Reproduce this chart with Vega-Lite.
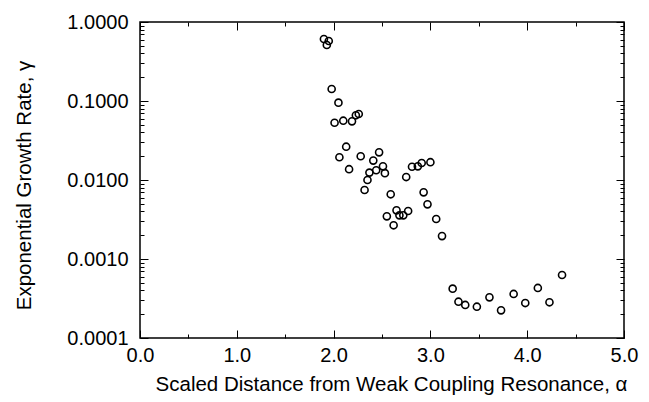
{
  "$schema": "https://vega.github.io/schema/vega-lite/v6.json",
  "autosize": {"type": "none"},
  "padding": {"left": 140, "top": 22, "right": 25, "bottom": 64},
  "width": 484,
  "height": 316,
  "background": "white",
  "config": {
    "view": {"stroke": "black", "strokeWidth": 1.5},
    "axis": {"grid": false, "domain": false, "labelFont": "Liberation Sans", "titleFont": "Liberation Sans", "labelColor": "black", "titleColor": "black", "tickColor": "black", "labelFontSize": 20, "titleFontSize": 20.5, "titleFontWeight": "normal"}
  },
  "data": {"values": [
    {"a": 1.90, "g": 0.609}, {"a": 1.95, "g": 0.575}, {"a": 1.93, "g": 0.511},
    {"a": 1.98, "g": 0.142}, {"a": 2.05, "g": 0.0952}, {"a": 2.01, "g": 0.0531},
    {"a": 2.10, "g": 0.0563}, {"a": 2.19, "g": 0.0553}, {"a": 2.23, "g": 0.0659},
    {"a": 2.26, "g": 0.0685}, {"a": 2.13, "g": 0.0264}, {"a": 2.06, "g": 0.0194},
    {"a": 2.28, "g": 0.0200}, {"a": 2.47, "g": 0.0224}, {"a": 2.16, "g": 0.0137},
    {"a": 2.41, "g": 0.0176}, {"a": 2.51, "g": 0.0149}, {"a": 2.37, "g": 0.0124},
    {"a": 2.44, "g": 0.0133}, {"a": 2.53, "g": 0.0122}, {"a": 2.35, "g": 0.0100},
    {"a": 2.32, "g": 0.00747}, {"a": 2.59, "g": 0.00659}, {"a": 2.75, "g": 0.0109},
    {"a": 2.81, "g": 0.0147}, {"a": 2.87, "g": 0.0149}, {"a": 2.91, "g": 0.0164},
    {"a": 3.00, "g": 0.0168}, {"a": 2.93, "g": 0.00698}, {"a": 2.97, "g": 0.00492},
    {"a": 3.06, "g": 0.00321}, {"a": 3.12, "g": 0.00195}, {"a": 2.65, "g": 0.00413},
    {"a": 2.77, "g": 0.00405}, {"a": 2.55, "g": 0.00347}, {"a": 2.68, "g": 0.00357},
    {"a": 2.72, "g": 0.00357}, {"a": 2.62, "g": 0.00267}, {"a": 3.23, "g": 0.000421},
    {"a": 3.29, "g": 0.000288}, {"a": 3.36, "g": 0.000262}, {"a": 3.48, "g": 0.000249},
    {"a": 3.61, "g": 0.000327}, {"a": 3.73, "g": 0.000224}, {"a": 3.86, "g": 0.000361},
    {"a": 3.98, "g": 0.000277}, {"a": 4.11, "g": 0.000430}, {"a": 4.23, "g": 0.000283},
    {"a": 4.36, "g": 0.000627}
  ]},
  "resolve": {"axis": {"x": "independent", "y": "independent"}},
  "layer": [
    {
      "mark": {"type": "point", "shape": "circle", "filled": false, "stroke": "black", "strokeWidth": 1.6, "size": 50, "opacity": 1},
      "encoding": {
        "x": {"field": "a", "type": "quantitative", "scale": {"domain": [0, 5], "nice": false, "zero": false},
              "axis": {"orient": "bottom", "title": "Scaled Distance from Weak Coupling Resonance, α", "values": [0, 1, 2, 3, 4, 5], "format": ".1f", "tickSize": -8, "labelPadding": 15, "titlePadding": 9, "titleX": 251, "labelFlush": false}},
        "y": {"field": "g", "type": "quantitative", "scale": {"type": "log", "domain": [0.0001, 1], "nice": false},
              "axis": {"orient": "left", "title": "Exponential Growth Rate, γ", "values": [0.0001, 0.001, 0.01, 0.1, 1], "format": ".4f", "tickSize": -8, "labelPadding": 20, "titlePadding": 32, "titleY": 163, "labelFlush": false}}
      }
    },
    {
      "mark": {"type": "point", "opacity": 0},
      "encoding": {
        "x": {"field": "a", "type": "quantitative", "scale": {"domain": [0, 5], "nice": false, "zero": false},
              "axis": {"orient": "bottom", "title": null, "labels": false, "values": [0.5, 1.5, 2.5, 3.5, 4.5], "tickSize": -4}},
        "y": {"field": "g", "type": "quantitative", "scale": {"type": "log", "domain": [0.0001, 1], "nice": false},
              "axis": {"orient": "left", "title": null, "labels": false, "tickSize": -4, "values": [0.0002, 0.0003, 0.0004, 0.0005, 0.0006, 0.0007, 0.0008, 0.0009, 0.002, 0.003, 0.004, 0.005, 0.006, 0.007, 0.008, 0.009, 0.02, 0.03, 0.04, 0.05, 0.06, 0.07, 0.08, 0.09, 0.2, 0.3, 0.4, 0.5, 0.6, 0.7, 0.8, 0.9]}}
      }
    },
    {
      "mark": {"type": "point", "opacity": 0},
      "encoding": {
        "x": {"field": "a", "type": "quantitative", "scale": {"domain": [0, 5], "nice": false, "zero": false},
              "axis": {"orient": "top", "title": null, "labels": false, "values": [0, 1, 2, 3, 4, 5], "tickSize": -8}},
        "y": {"field": "g", "type": "quantitative", "scale": {"type": "log", "domain": [0.0001, 1], "nice": false},
              "axis": {"orient": "right", "title": null, "labels": false, "values": [0.0001, 0.001, 0.01, 0.1, 1], "tickSize": -8}}
      }
    },
    {
      "mark": {"type": "point", "opacity": 0},
      "encoding": {
        "x": {"field": "a", "type": "quantitative", "scale": {"domain": [0, 5], "nice": false, "zero": false},
              "axis": {"orient": "top", "title": null, "labels": false, "values": [0.5, 1.5, 2.5, 3.5, 4.5], "tickSize": -4}},
        "y": {"field": "g", "type": "quantitative", "scale": {"type": "log", "domain": [0.0001, 1], "nice": false},
              "axis": {"orient": "right", "title": null, "labels": false, "tickSize": -4, "values": [0.0002, 0.0003, 0.0004, 0.0005, 0.0006, 0.0007, 0.0008, 0.0009, 0.002, 0.003, 0.004, 0.005, 0.006, 0.007, 0.008, 0.009, 0.02, 0.03, 0.04, 0.05, 0.06, 0.07, 0.08, 0.09, 0.2, 0.3, 0.4, 0.5, 0.6, 0.7, 0.8, 0.9]}}
      }
    }
  ]
}
